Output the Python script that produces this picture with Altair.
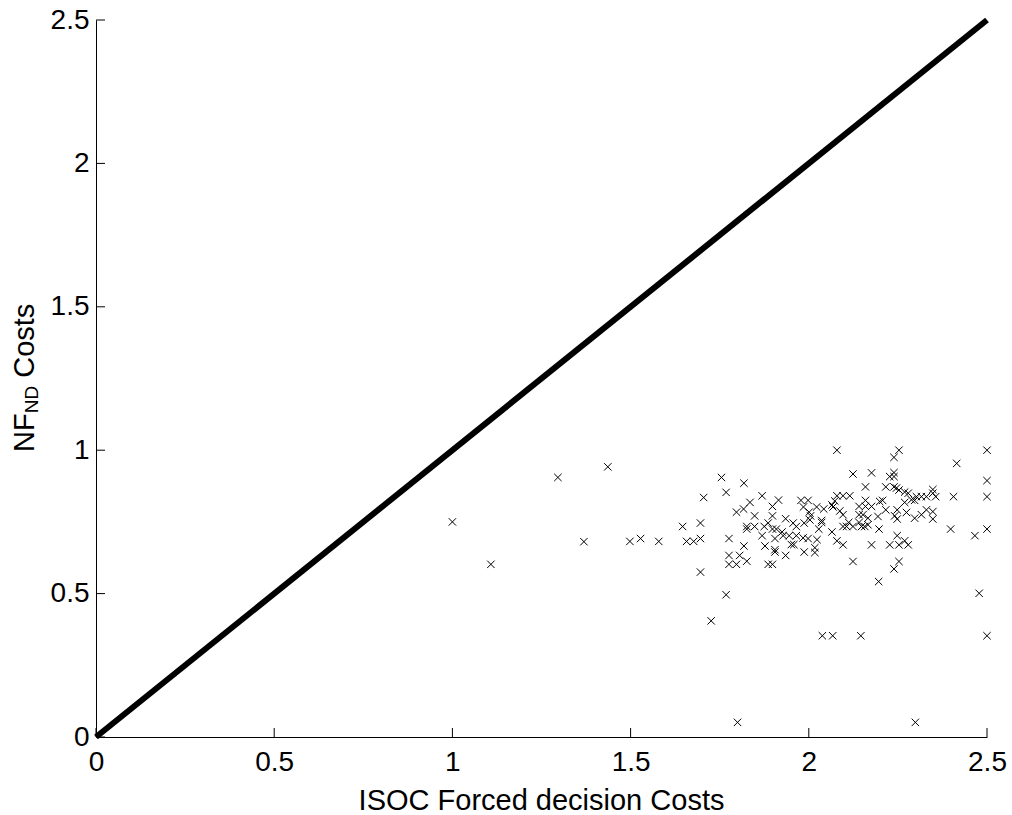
import altair as alt
import pandas as pd

# ---- data ----
scatter_x = [1.000, 1.108, 1.296, 1.436, 1.369, 1.498, 1.528, 1.579, 1.646, 1.696,
             1.657, 1.677, 1.696, 1.696, 1.705, 1.726, 1.755, 1.768, 1.768, 1.776,
             1.776, 1.776, 1.797, 1.797, 1.800, 1.806, 1.818, 1.817, 1.818, 1.826,
             1.826, 1.826, 1.835, 1.848, 1.848, 1.869, 1.869, 1.875, 1.877, 1.886,
             1.886, 1.898, 1.898, 1.898, 1.898, 1.905, 1.905, 1.905, 1.909, 1.915,
             1.925, 1.928, 1.935, 1.935, 1.945, 1.951, 1.956, 1.958, 1.965, 1.965,
             1.978, 1.985, 1.987, 1.987, 1.984, 1.998, 1.998, 2.001, 2.003, 2.005,
             2.017, 2.017, 2.022, 2.023, 2.028, 2.036, 2.036, 2.038, 2.042, 2.065,
             2.065, 2.067, 2.068, 2.073, 2.079, 2.079, 2.079, 2.087, 2.096, 2.096,
             2.096, 2.096, 2.106, 2.112, 2.115, 2.124, 2.124, 2.124, 2.141, 2.141,
             2.141, 2.146, 2.148, 2.152, 2.157, 2.159, 2.159, 2.159, 2.166, 2.166,
             2.176, 2.176, 2.176, 2.194, 2.196, 2.197, 2.199, 2.207, 2.216, 2.216,
             2.227, 2.227, 2.239, 2.239, 2.239, 2.239, 2.239, 2.241, 2.246, 2.248,
             2.248, 2.248, 2.253, 2.253, 2.253, 2.253, 2.269, 2.269, 2.269, 2.274,
             2.279, 2.279, 2.288, 2.297, 2.297, 2.299, 2.302, 2.316, 2.316, 2.330,
             2.330, 2.348, 2.348, 2.348, 2.348, 2.356, 2.398, 2.406, 2.415, 2.466,
             2.478, 2.500, 2.500, 2.500, 2.500, 2.500]
scatter_y = [0.750, 0.602, 0.905, 0.942, 0.681, 0.682, 0.692, 0.682, 0.734, 0.746,
             0.682, 0.682, 0.692, 0.575, 0.835, 0.405, 0.905, 0.853, 0.496, 0.692,
             0.633, 0.602, 0.784, 0.602, 0.051, 0.633, 0.885, 0.795, 0.666, 0.734,
             0.725, 0.613, 0.818, 0.771, 0.734, 0.841, 0.702, 0.734, 0.666, 0.746,
             0.602, 0.804, 0.771, 0.725, 0.602, 0.692, 0.653, 0.645, 0.725, 0.826,
             0.715, 0.702, 0.761, 0.633, 0.702, 0.671, 0.746, 0.671, 0.734, 0.702,
             0.825, 0.802, 0.746, 0.645, 0.694, 0.692, 0.825, 0.784, 0.757, 0.771,
             0.660, 0.643, 0.802, 0.688, 0.725, 0.748, 0.755, 0.353, 0.795, 0.809,
             0.715, 0.353, 0.802, 0.823, 1.000, 0.841, 0.684, 0.788, 0.841, 0.775,
             0.734, 0.670, 0.734, 0.748, 0.841, 0.917, 0.734, 0.612, 0.804, 0.775,
             0.748, 0.353, 0.734, 0.775, 0.734, 0.872, 0.825, 0.804, 0.763, 0.740,
             0.921, 0.804, 0.670, 0.769, 0.542, 0.725, 0.821, 0.825, 0.872, 0.792,
             0.908, 0.670, 0.975, 0.922, 0.908, 0.872, 0.586, 0.771, 0.868, 0.792,
             0.760, 0.702, 1.000, 0.861, 0.670, 0.612, 0.854, 0.818, 0.684, 0.783,
             0.850, 0.670, 0.827, 0.825, 0.763, 0.051, 0.838, 0.838, 0.775, 0.838,
             0.792, 0.863, 0.850, 0.786, 0.760, 0.838, 0.725, 0.838, 0.954, 0.702,
             0.501, 1.000, 0.894, 0.838, 0.725, 0.353]

diag_x = [0.0, 2.5]
diag_y = [0.0, 2.5]

tick_values = [0, 0.5, 1, 1.5, 2, 2.5]

x_title = "ISOC Forced decision Costs"
y_title_parts = ["NF", "ND", "Costs"]

FONT = "Liberation Sans"
W, H = 891, 717
LBL = 28
TTL = 29

scatter_df = pd.DataFrame({"x": scatter_x, "y": scatter_y})
diag_df = pd.DataFrame({"x": diag_x, "y": diag_y})
ticks_df = pd.DataFrame({"v": tick_values})

xscale = alt.Scale(domain=[0, 2.5], nice=False, zero=False)
yscale = alt.Scale(domain=[0, 2.5], nice=False, zero=False)

xaxis = alt.Axis(values=tick_values, format="~g", ticks=False, tickSize=0, grid=False,
                 domain=True, domainColor="black", domainWidth=1,
                 labelFont=FONT, labelFontSize=LBL, labelColor="black",
                 labelBaseline="alphabetic", labelPadding=33, labelFlush=False,
                 title=None)
yaxis = alt.Axis(values=tick_values, format="~g", ticks=False, tickSize=0, grid=False,
                 domain=True, domainColor="black", domainWidth=1,
                 labelFont=FONT, labelFontSize=LBL, labelColor="black",
                 labelPadding=7, labelFlush=False, title=None)

diag = alt.Chart(diag_df).mark_line(color="black", strokeWidth=6).encode(
    x=alt.X("x:Q", scale=xscale, axis=xaxis),
    y=alt.Y("y:Q", scale=yscale, axis=yaxis),
)

xshape = "M-1,-1L1,1M-1,1L1,-1"
pts = alt.Chart(scatter_df).mark_point(shape=xshape, filled=False, color="black",
                                       size=55, strokeWidth=1, opacity=1).encode(
    x=alt.X("x:Q", scale=xscale, axis=xaxis),
    y=alt.Y("y:Q", scale=yscale, axis=yaxis),
)

xticks = alt.Chart(ticks_df).mark_rule(color="black", strokeWidth=1).encode(
    x=alt.X("v:Q", scale=xscale, axis=xaxis),
    y=alt.value(H), y2=alt.value(H - 9),
)
yticks = alt.Chart(ticks_df).mark_rule(color="black", strokeWidth=1).encode(
    y=alt.Y("v:Q", scale=yscale, axis=yaxis),
    x=alt.value(0), x2=alt.value(9),
)

xt = alt.Chart(pd.DataFrame({"t": [x_title]})).mark_text(
    font=FONT, fontSize=TTL, color="black", align="center", baseline="alphabetic"
).encode(text="t:N", x=alt.value(W / 2), y=alt.value(810 - 20))

yt1 = alt.Chart(pd.DataFrame({"t": [y_title_parts[0]]})).mark_text(
    font=FONT, fontSize=TTL, color="black", align="left", baseline="alphabetic", angle=270
).encode(text="t:N", x=alt.value(-62), y=alt.value(432))
yt2 = alt.Chart(pd.DataFrame({"t": [y_title_parts[1]]})).mark_text(
    font=FONT, fontSize=19, color="black", align="left", baseline="alphabetic", angle=270
).encode(text="t:N", x=alt.value(-58), y=alt.value(393.3))
yt3 = alt.Chart(pd.DataFrame({"t": [y_title_parts[2]]})).mark_text(
    font=FONT, fontSize=TTL, color="black", align="left", baseline="alphabetic", angle=270
).encode(text="t:N", x=alt.value(-62), y=alt.value(357.8))

chart = alt.layer(diag, pts, xticks, yticks, xt, yt1, yt2, yt3).properties(
    width=W, height=H,
    autosize=alt.AutoSizeParams(type="none"),
    padding={"left": 96, "top": 20, "right": 25, "bottom": 78},
    background="white",
).configure_view(stroke=None)

chart.save("out.html", embed_options={"renderer": "svg", "actions": False})
